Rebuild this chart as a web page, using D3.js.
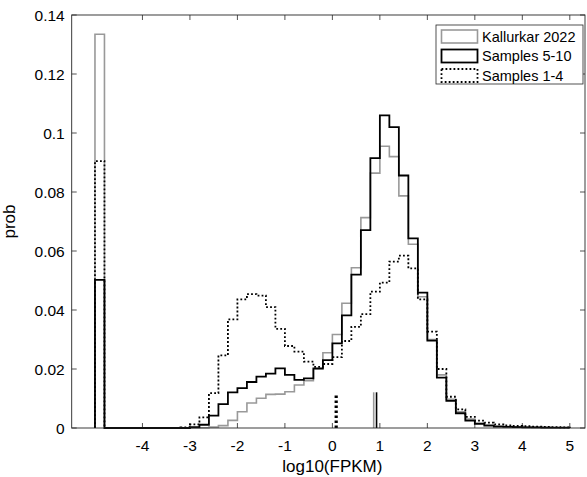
<!DOCTYPE html>
<html><head><meta charset="utf-8">
<script src="https://cdn.jsdelivr.net/npm/d3@7"></script>
<style>body{margin:0;background:#fff}svg{display:block}text{font-family:"Liberation Sans",Arial,Helvetica,sans-serif}</style>
</head><body><svg id="c" width="587" height="477"></svg>
<script>
// Bin left edges: -5.0 to 4.8, width 0.2
const binStart = -5, binWidth = 0.2;
const kallurkar = [0.1335,0,0,0,0,0,0,0,0,0,
 0,0.0001,0.0003,0.0008,0.0026,0.0055,0.0085,0.0101,0.0114,0.0115,
 0.0123,0.0146,0.0160,0.0199,0.0255,0.0317,0.0423,0.0543,0.0713,0.0864,
 0.0955,0.0920,0.0787,0.0623,0.0445,0.0300,0.0180,0.0097,0.0055,0.0030,
 0.0017,0.0010,0.0007,0.0005,0.0004,0.0003,0.0002,0.0002,0.0001,0.0001];
const samples510 = [0.0502,0,0,0,0,0,0,0,0,0,
 0.0003,0.0011,0.0042,0.0081,0.0121,0.0135,0.0156,0.0174,0.0184,0.0202,
 0.0180,0.0163,0.0168,0.0202,0.0230,0.0287,0.0382,0.0520,0.0671,0.0915,
 0.1060,0.1020,0.0856,0.0643,0.0459,0.0296,0.0171,0.0092,0.0050,0.0025,
 0.0014,0.0008,0.0005,0.0004,0.0003,0.0002,0.0002,0.0001,0.0001,0.0001];
const samples14 = [0.0905,0,0,0,0,0,0,0,0,0.0002,
 0.0012,0.0036,0.0118,0.0246,0.0368,0.0436,0.0454,0.0449,0.0410,0.0336,
 0.0278,0.0259,0.0225,0.0207,0.0217,0.0240,0.0295,0.0343,0.0386,0.0462,
 0.0493,0.0564,0.0584,0.0541,0.0436,0.0327,0.0200,0.0106,0.0063,0.0038,
 0.0025,0.0018,0.0012,0.0009,0.0007,0.0006,0.0005,0.0004,0.0003,0.0002];
const medians = [0.87, 0.93, 0.08];   // Kallurkar, Samples 5-10, Samples 1-4
const medianHeights = [0.0121, 0.0121, 0.0112];
const seriesNames = ["Kallurkar 2022","Samples 5-10","Samples 1-4"];
const xTicks = [-4,-3,-2,-1,0,1,2,3,4,5];
const yTicks = [0,0.02,0.04,0.06,0.08,0.1,0.12,0.14];
const yTickLabels = ["0","0.02","0.04","0.06","0.08","0.1","0.12","0.14"];

const styles = [
  {stroke:"#999999", width:1.6, dash:null},
  {stroke:"#000000", width:1.8, dash:null},
  {stroke:"#000000", width:1.8, dash:"1.8,2.2"}
];
const L=71.7, R=585, T=15, B=428;
const x = d3.scaleLinear().domain([-5.49, (R-332.3)/47.5]).range([L,R]);
const y = d3.scaleLinear().domain([0,0.14]).range([B,T]);
const svg = d3.select("#c");
const axc = "#262626";

// ticks inside
const g = svg.append("g");
xTicks.forEach(t=>{
  g.append("line").attr("x1",x(t)).attr("x2",x(t)).attr("y1",B).attr("y2",B-5).attr("stroke",axc).attr("stroke-width",0.8);
  g.append("line").attr("x1",x(t)).attr("x2",x(t)).attr("y1",T).attr("y2",T+5).attr("stroke",axc).attr("stroke-width",0.8);
  g.append("text").attr("x",x(t)).attr("y",B+23).attr("text-anchor","middle").attr("font-size",15.5).attr("fill","#000").text(t);
});
yTicks.forEach((t,i)=>{
  g.append("line").attr("x1",L).attr("x2",L+5).attr("y1",y(t)).attr("y2",y(t)).attr("stroke",axc).attr("stroke-width",0.8);
  g.append("line").attr("x1",R).attr("x2",R-5).attr("y1",y(t)).attr("y2",y(t)).attr("stroke",axc).attr("stroke-width",0.8);
  g.append("text").attr("x",L-7).attr("y",y(t)+5.5).attr("text-anchor","end").attr("font-size",15.5).attr("fill","#000").text(yTickLabels[i]);
});

const data = [kallurkar, samples510, samples14];
const line = d3.line().x(d=>x(d[0])).y(d=>y(d[1]));
data.forEach((vals,si)=>{
  const pts = [[binStart,0]];
  vals.forEach((v,i)=>{ const e0=binStart+i*binWidth, e1=e0+binWidth; pts.push([e0,v]); pts.push([e1,v]); });
  pts.push([binStart+vals.length*binWidth,0]);
  const p = svg.append("path").attr("d",line(pts)).attr("fill","none")
    .attr("stroke",styles[si].stroke).attr("stroke-width",styles[si].width).attr("stroke-linejoin","miter");
  if(styles[si].dash) p.attr("stroke-dasharray",styles[si].dash);
});
// median markers
medians.forEach((m,si)=>{
  const ln = svg.append("line").attr("x1",x(m)).attr("x2",x(m)).attr("y1",y(0)).attr("y2",y(medianHeights[si]))
    .attr("stroke",styles[si].stroke).attr("stroke-width", si===2?3.2:1.6);
  if(styles[si].dash) ln.attr("stroke-dasharray","2.5,2.5");
});

// box
svg.append("rect").attr("x",L).attr("y",T).attr("width",R-L).attr("height",B-T).attr("fill","none").attr("stroke",axc).attr("stroke-width",0.9);

// labels
svg.append("text").attr("x",(L+R)/2+4).attr("y",472).attr("text-anchor","middle").attr("font-size",17).text("log10(FPKM)");
svg.append("text").attr("transform",`translate(15,${(T+B)/2}) rotate(-90)`).attr("text-anchor","middle").attr("font-size",17).text("prob");

// legend
const lg = svg.append("g");
lg.append("rect").attr("x",436).attr("y",25).attr("width",147).attr("height",59).attr("fill","#fff").attr("stroke",axc).attr("stroke-width",0.8);
seriesNames.forEach((n,i)=>{
  const cy = 36.5 + i*19.5;
  const r = lg.append("rect").attr("x",441.5).attr("y",cy-6.5).attr("width",36).attr("height",13).attr("fill","none")
    .attr("stroke",styles[i].stroke).attr("stroke-width",styles[i].width);
  if(styles[i].dash) r.attr("stroke-dasharray",styles[i].dash);
  lg.append("text").attr("x",482).attr("y",cy+5.2).attr("font-size",14.5).text(n);
});
</script></body></html>
